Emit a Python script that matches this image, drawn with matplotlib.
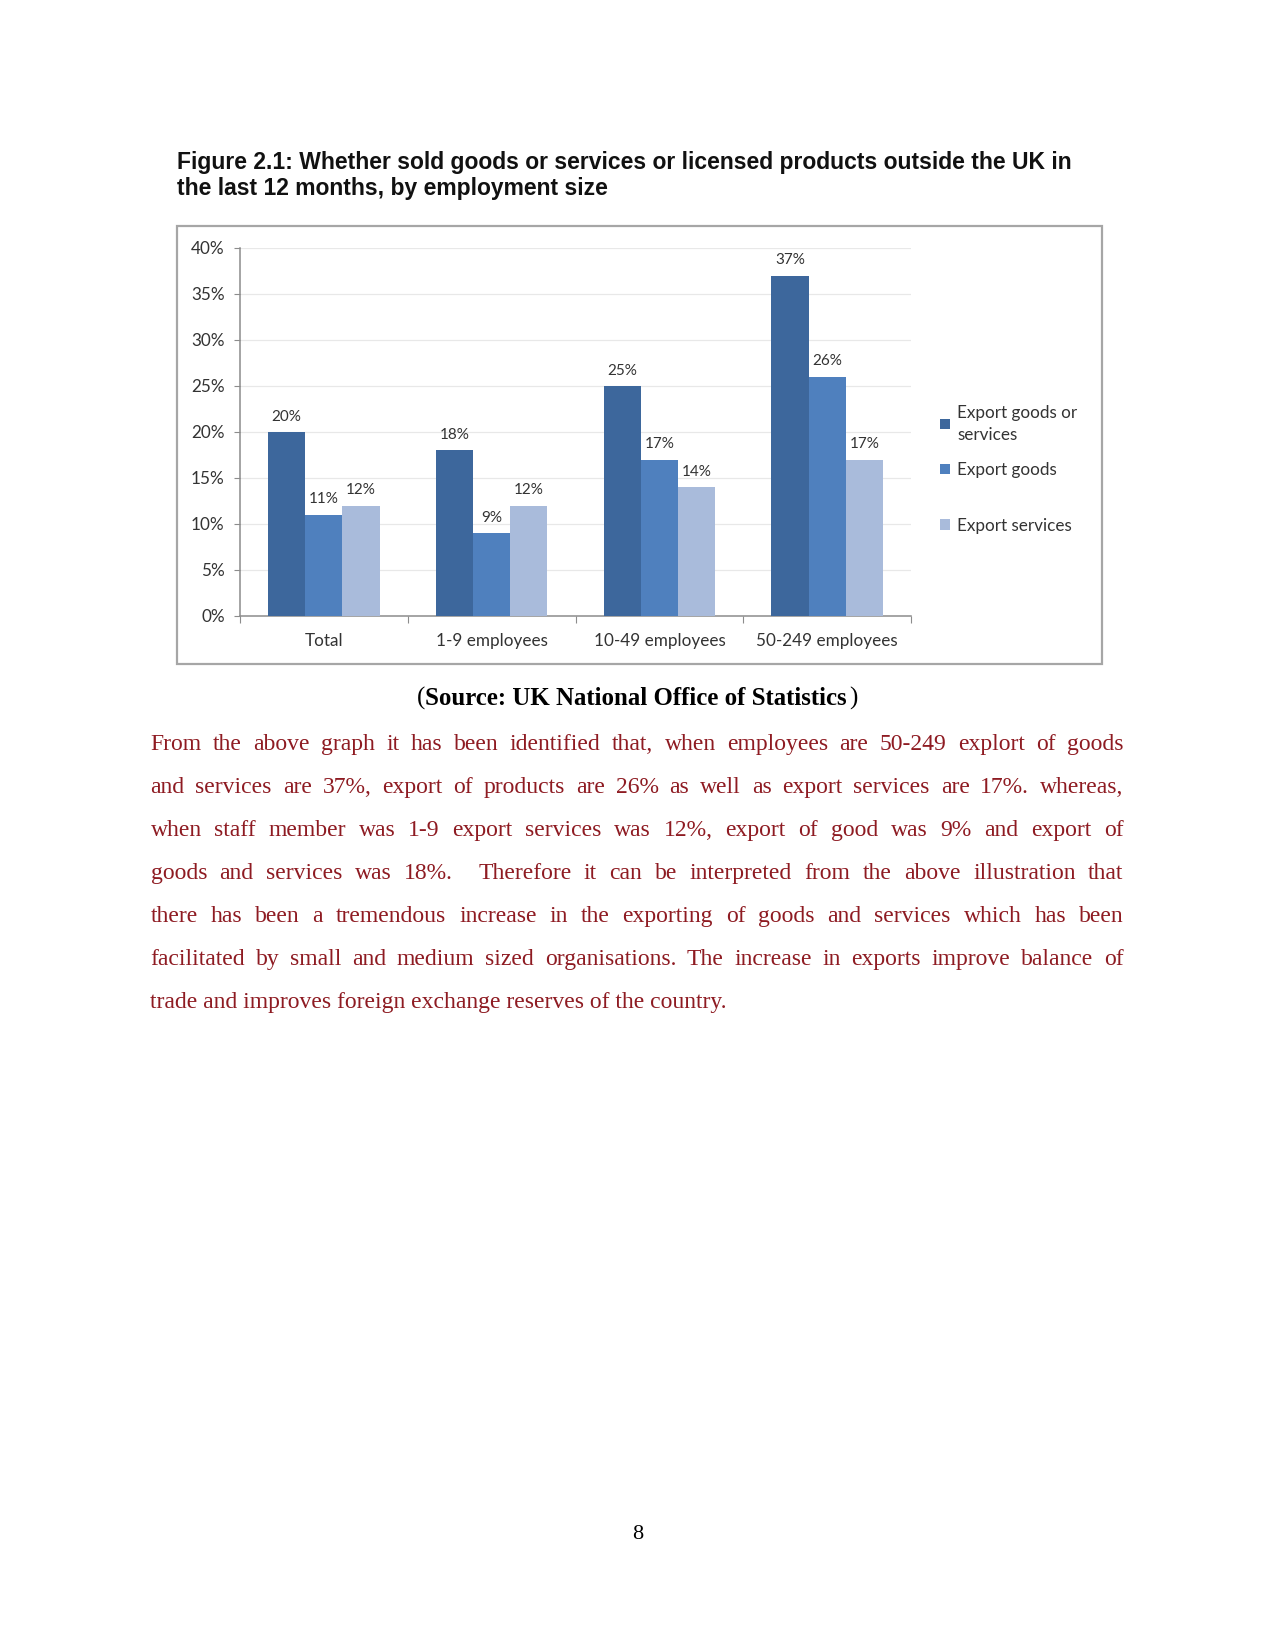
import matplotlib
matplotlib.use('Agg')
import matplotlib.pyplot as plt
from matplotlib.patches import Rectangle
import numpy as np

# chart data
categories = ['Total', '1-9 employees', '10-49 employees', '50-249 employees']
goods_or_services = [20, 18, 25, 37]
goods = [11, 9, 17, 26]
services = [12, 12, 14, 17]
series_names = ['Export goods or\nservices', 'Export goods', 'Export services']
series_colors = ['#3d679c', '#4f80be', '#a9bbdb']
y_ticks = [0, 5, 10, 15, 20, 25, 30, 35, 40]

title_lines = ['Figure 2.1: Whether sold goods or services or licensed products outside the UK in',
               'the last 12 months, by employment size']
source_text = 'Source: UK National Office of Statistics'
paragraph_lines = [
    'From the above graph it has been identified that, when employees are 50-249 explort of goods',
    'and services are 37%, export of products are 26% as well as export services are 17%. whereas,',
    'when staff member was 1-9 export services was 12%, export of good was 9% and export of',
    'goods and services was 18%.  Therefore it can be interpreted from the above illustration that',
    'there has been a tremendous increase in the exporting of goods and services which has been',
    'facilitated by small and medium sized organisations. The increase in exports improve balance of',
    'trade and improves foreign exchange reserves of the country.',
]
page_number = '8'

W, H = 1275, 1651
fig = plt.figure(figsize=(W / 100, H / 100), dpi=100)
renderer = fig.canvas.get_renderer()


def fx(x):
    return x / W


def fy(y):
    return 1 - y / H


def width_of(s, **kw):
    t = fig.text(0, 0, s, **kw)
    w = t.get_window_extent(renderer).width
    t.remove()
    return w


# title, fitted to the width in the reference
title_kw = dict(family='Liberation Sans', weight='bold')
tw = width_of(title_lines[0], fontsize=13, **title_kw)
title_fs = 13 * 894 / tw
for i, line in enumerate(title_lines):
    fig.text(fx(177), fy(169.5 + i * 26), line, fontsize=title_fs, va='baseline',
             color='#111111', **title_kw)

# chart frame
fig.add_artist(Rectangle((fx(177), fy(664)), (1102 - 177) / W, (664 - 226) / H,
                         transform=fig.transFigure, fill=False, edgecolor='#a6a6a6', lw=1.6))

ax = fig.add_axes([fx(240), fy(616), (911 - 240) / W, (616 - 248) / H])
x = np.arange(len(categories))
bw = 0.222
series = [goods_or_services, goods, services]
handles = []
for k, vals in enumerate(series):
    bars = ax.bar(x + (k - 1) * bw, vals, bw, color=series_colors[k], zorder=3,
                  label=series_names[k])
    ax.bar_label(bars, labels=[f'{v}%' for v in vals], padding=6, fontsize=11,
                 family='Lato', color='#333333')
    handles.append(bars)

ax.set_xlim(-0.5, len(categories) - 0.5)
ax.set_ylim(0, 40)
ax.set_yticks(y_ticks)
ax.set_yticklabels([f'{t}%' for t in y_ticks], family='Lato', fontsize=12.3, color='#333333')
ax.set_xticks(np.arange(len(categories) + 1) - 0.5)
ax.set_xticklabels([])
ax.set_xticks(x, minor=True)
ax.set_xticklabels(categories, minor=True, family='Lato', fontsize=12.3, color='#333333')
ax.tick_params(axis='x', which='major', length=5, color='#8c8c8c', direction='out')
ax.tick_params(axis='x', which='minor', length=0, pad=12)
ax.tick_params(axis='y', length=4, color='#8c8c8c', pad=7)
ax.grid(axis='y', color='#e8e8e8', lw=0.9, zorder=0)
for s in ['top', 'right']:
    ax.spines[s].set_visible(False)
for s in ['left', 'bottom']:
    ax.spines[s].set_color('#8c8c8c')
    ax.spines[s].set_linewidth(1.1)

# legend in two blocks, to keep the uneven spacing of the original
leg_kw = dict(frameon=False, prop={'family': 'Lato', 'size': 12.3},
              handlelength=0.55, handleheight=0.55, handletextpad=0.45,
              labelcolor='#333333')
leg1 = fig.legend(handles=handles[:2], labels=series_names[:2], loc='upper left',
                  bbox_to_anchor=(fx(925), fy(389.5)), labelspacing=1.15, **leg_kw)
leg1.get_texts()[0].set_linespacing(1.45)
leg2 = fig.legend(handles=handles[2:], labels=series_names[2:], loc='center left',
                  bbox_to_anchor=(fx(925), fy(525.5)), **leg_kw)

# source line: "(" regular, bold text, ")" regular
src_fs = 16
serif = 'Liberation Serif'
parts = [('(', 'normal'), (source_text, 'bold'), (')', 'normal')]
widths = [width_of(p, fontsize=src_fs, family=serif, weight=w) for p, w in parts]
scale = 441 / sum(widths)
src_fs *= scale
widths = [w * scale for w in widths]
xpos = 637.5 - sum(widths) / 2
for (p, w), pw in zip(parts, widths):
    fig.text(fx(xpos), fy(705), p, fontsize=src_fs, family=serif, weight=w,
             va='baseline', color='black')
    xpos += pw

# justified paragraph
para_color = '#8e1b22'
left, right = 150.5, 1123.5
avail = right - left
para_fs = 17.0
nat = max(width_of(l, fontsize=para_fs, family=serif) for l in paragraph_lines)
if nat > avail * 0.99:
    para_fs *= avail * 0.99 / nat
for i, line in enumerate(paragraph_lines):
    base = fy(749.5 + i * 43.1)
    if i == len(paragraph_lines) - 1:
        fig.text(fx(left), base, line, fontsize=para_fs, family=serif,
                 va='baseline', color=para_color)
        continue
    words = line.split(' ')
    ww = [width_of(w, fontsize=para_fs, family=serif) if w else 0 for w in words]
    gap = (avail - sum(ww)) / (len(words) - 1)
    xpos = left
    for w, wwid in zip(words, ww):
        if w:
            fig.text(fx(xpos), base, w, fontsize=para_fs, family=serif,
                     va='baseline', color=para_color)
        xpos += wwid + gap

fig.text(fx(637.5), fy(1538.5), page_number, fontsize=16, family=serif,
         ha='center', va='baseline', color='black')

fig.savefig('out.png', dpi=100)
